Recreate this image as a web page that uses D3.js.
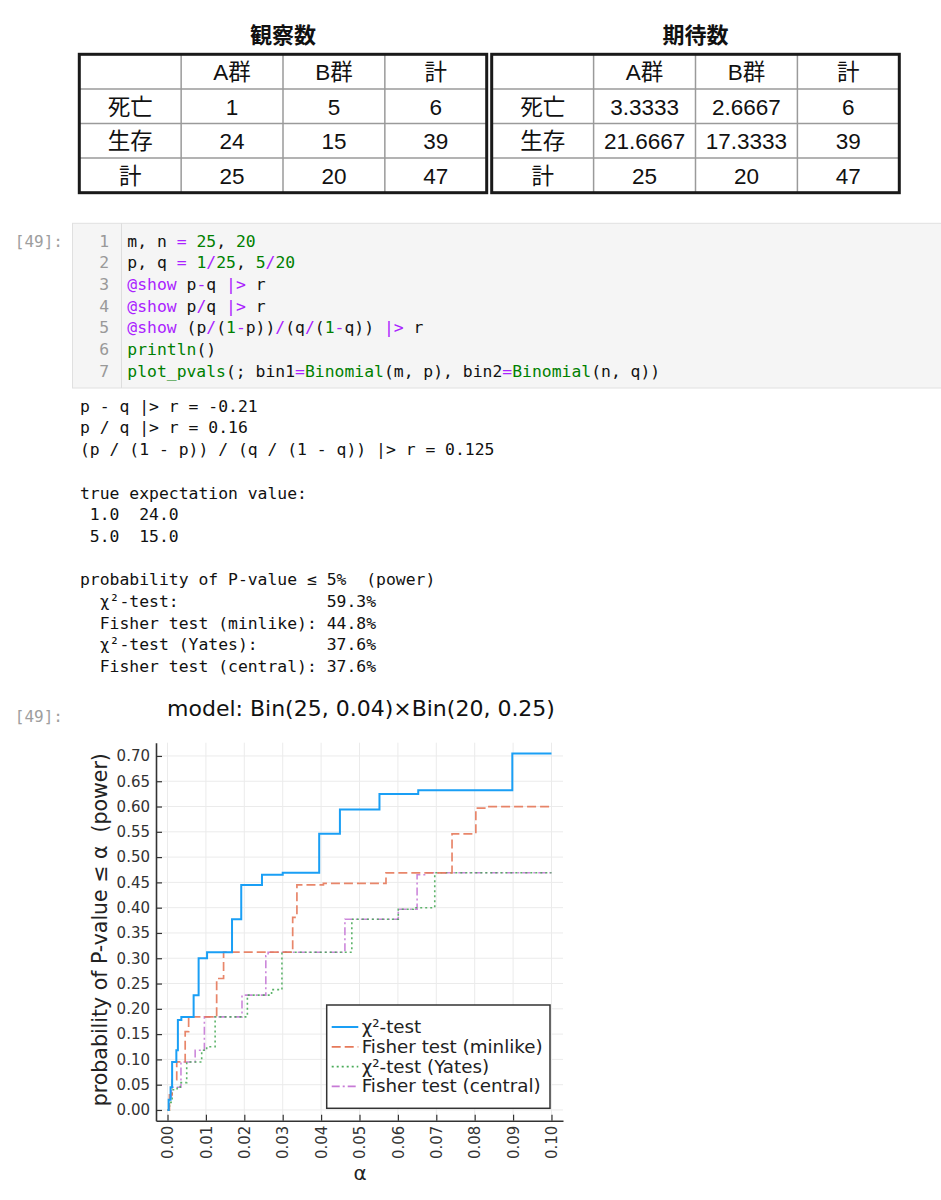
<!DOCTYPE html>
<html>
<head>
<meta charset="utf-8">
<script src="https://cdn.jsdelivr.net/npm/d3@7"></script>
<style>
  html, body { margin: 0; padding: 0; background: #fff; }
  svg { display: block; }
  text { white-space: pre; }
</style>
</head>
<body>
<svg id="page" width="941" height="1200"></svg>
<script>
// ---- table data ----
const rowLabels = ["死亡", "生存", "計"];
const colLabels = ["A群", "B群", "計"];
const observed = [["1", "5", "6"], ["24", "15", "39"], ["25", "20", "47"]];
const expected = [["3.3333", "2.6667", "6"], ["21.6667", "17.3333", "39"], ["25", "20", "47"]];

// ---- step curves: [alpha, power] ----
const chi2 = [[0, 0], [0.0003, 0.02], [0.0008, 0.045], [0.0012, 0.095], [0.0023, 0.118], [0.0027, 0.178],
  [0.0036, 0.184], [0.0068, 0.227], [0.0081, 0.300], [0.0103, 0.312], [0.0168, 0.377], [0.0192, 0.445],
  [0.0246, 0.465], [0.030, 0.469], [0.0395, 0.546], [0.0449, 0.594], [0.0552, 0.625], [0.0653, 0.632],
  [0.0898, 0.705], [0.1, 0.705]];
const fisherMinlike = [[0, 0], [0.0005, 0.03], [0.0012, 0.06], [0.0024, 0.095], [0.0046, 0.155], [0.0055, 0.184],
  [0.0128, 0.26], [0.0146, 0.312], [0.0326, 0.381], [0.0337, 0.445], [0.0406, 0.448], [0.0569, 0.469],
  [0.0741, 0.546], [0.0803, 0.597], [0.0829, 0.600], [0.1, 0.600]];
const yates = [[0, 0], [0.0005, 0.015], [0.0012, 0.04], [0.0025, 0.045], [0.0033, 0.054], [0.005, 0.095],
  [0.0089, 0.118], [0.0102, 0.125], [0.0124, 0.184], [0.0208, 0.227], [0.0271, 0.238], [0.0298, 0.312],
  [0.048, 0.377], [0.0601, 0.397], [0.064, 0.40], [0.0696, 0.469], [0.1, 0.469]];
const fisherCentral = [[0, 0], [0.0004, 0.02], [0.001, 0.045], [0.0035, 0.095], [0.0072, 0.118], [0.0096, 0.184],
  [0.0194, 0.227], [0.0256, 0.305], [0.0262, 0.312], [0.0462, 0.377], [0.0601, 0.397], [0.065, 0.465],
  [0.0675, 0.469], [0.1, 0.469]];

const alphaTicks = [0, 0.01, 0.02, 0.03, 0.04, 0.05, 0.06, 0.07, 0.08, 0.09, 0.10];
const powerTicks = [0, 0.05, 0.10, 0.15, 0.20, 0.25, 0.30, 0.35, 0.40, 0.45, 0.50, 0.55, 0.60, 0.65, 0.70];

const seriesNames = ["χ²-test", "Fisher test (minlike)", "χ²-test (Yates)", "Fisher test (central)"];

// ---- notebook text ----
const P = "#aa22ff", G = "#008000";
const codeLines = [
  [["m, n "], ["=", P], [" "], ["25", G], [", "], ["20", G]],
  [["p, q "], ["=", P], [" "], ["1", G], ["/", P], ["25", G], [", "], ["5", G], ["/", P], ["20", G]],
  [["@show", P], [" p"], ["-", P], ["q "], ["|>", P], [" r"]],
  [["@show", P], [" p"], ["/", P], ["q "], ["|>", P], [" r"]],
  [["@show", P], [" (p"], ["/", P], ["("], ["1", G], ["-", P], ["p))"], ["/", P], ["(q"], ["/", P], ["("],
    ["1", G], ["-", P], ["q)) "], ["|>", P], [" r"]],
  [["println", G], ["()"]],
  [["plot_pvals", G], ["(; bin1"], ["=", P], ["Binomial", G], ["(m, p), bin2"], ["=", P], ["Binomial", G], ["(n, q))"]]
];
const outputLines = [
  "p - q |> r = -0.21",
  "p / q |> r = 0.16",
  "(p / (1 - p)) / (q / (1 - q)) |> r = 0.125",
  "",
  "true expectation value:",
  " 1.0  24.0",
  " 5.0  15.0",
  "",
  "probability of P-value ≤ 5%  (power)",
  "  χ²-test:               59.3%",
  "  Fisher test (minlike): 44.8%",
  "  χ²-test (Yates):       37.6%",
  "  Fisher test (central): 37.6%"
];

const svg = d3.select("#page");
svg.append("rect").attr("width", 941).attr("height", 1200).attr("fill", "#fff");

const tableFont = "'Liberation Sans', 'Noto Sans CJK JP', sans-serif";

// ---- tables ----
function drawTable(title, values, x0, x1, y0, y1) {
  const g = svg.append("g");
  const cx = d3.scaleBand().domain(d3.range(4)).range([x0, x1]);
  const cy = d3.scaleBand().domain(d3.range(4)).range([y0, y1]);

  g.append("text")
    .attr("x", (x0 + x1) / 2)
    .attr("y", 43)
    .attr("text-anchor", "middle")
    .attr("font-family", "'Noto Sans CJK JP', sans-serif")
    .attr("font-weight", "bold")
    .attr("font-size", 22)
    .attr("fill", "#111")
    .text(title);

  [1, 2, 3].forEach(i => {
    g.append("line")
      .attr("x1", cx(i)).attr("x2", cx(i))
      .attr("y1", y0).attr("y2", y1)
      .attr("stroke", "#9a9a9a").attr("stroke-width", 1.5);
    g.append("line")
      .attr("x1", x0).attr("x2", x1)
      .attr("y1", cy(i)).attr("y2", cy(i))
      .attr("stroke", "#9a9a9a").attr("stroke-width", 1.5);
  });

  g.append("rect")
    .attr("x", x0).attr("y", y0)
    .attr("width", x1 - x0).attr("height", y1 - y0)
    .attr("fill", "none")
    .attr("stroke", "#1a1a1a")
    .attr("stroke-width", 3);

  const cells = [];
  colLabels.forEach((c, j) => cells.push({ r: 0, c: j + 1, t: c }));
  rowLabels.forEach((r, i) => {
    cells.push({ r: i + 1, c: 0, t: r });
    values[i].forEach((v, j) => cells.push({ r: i + 1, c: j + 1, t: v }));
  });

  g.selectAll(".cell").data(cells).enter()
    .append("text")
    .classed("cell", true)
    .attr("x", d => cx(d.c) + cx.bandwidth() / 2)
    .attr("y", d => cy(d.r) + cy.bandwidth() / 2 + 1)
    .attr("text-anchor", "middle")
    .attr("dominant-baseline", "central")
    .attr("font-family", tableFont)
    .attr("font-size", 22.5)
    .attr("fill", "#111")
    .text(d => d.t);
}

drawTable("観察数", observed, 79.3, 486.7, 54.3, 192.7);
drawTable("期待数", expected, 491.7, 899.3, 54.3, 192.7);

// ---- code cell ----
const mono = "'DejaVu Sans Mono', monospace";
svg.append("rect")
  .attr("x", 72.5).attr("y", 223.3)
  .attr("width", 941 - 72.5 + 2).attr("height", 164.7)
  .attr("fill", "#f5f5f5")
  .attr("stroke", "#e0e0e0").attr("stroke-width", 1);
svg.append("line")
  .attr("x1", 121.5).attr("x2", 121.5)
  .attr("y1", 223.3).attr("y2", 388)
  .attr("stroke", "#dddddd").attr("stroke-width", 1);

const prompt = (yy) => svg.append("text")
  .attr("x", 63).attr("y", yy)
  .attr("text-anchor", "end")
  .attr("font-family", mono)
  .attr("font-size", 16)
  .attr("fill", "#9e9e9e")
  .text("[49]:");
prompt(247);

codeLines.forEach((tokens, i) => {
  const by = 246.7 + i * 21.67;
  svg.append("text")
    .attr("x", 109).attr("y", by)
    .attr("text-anchor", "end")
    .attr("font-family", mono).attr("font-size", 16.4)
    .attr("fill", "#999")
    .text(String(i + 1));
  const t = svg.append("text")
    .attr("x", 127.3).attr("y", by)
    .attr("font-family", mono).attr("font-size", 16.4)
    .attr("fill", "#111");
  tokens.forEach(tok => {
    t.append("tspan").attr("fill", tok[1] || "#111").text(tok[0]);
  });
});

// ---- stdout ----
outputLines.forEach((line, i) => {
  svg.append("text")
    .attr("x", 80).attr("y", 411.7 + i * 21.7)
    .attr("font-family", mono).attr("font-size", 16.4)
    .attr("fill", "#111")
    .text(line);
});

// ---- plot ----
prompt(722);
const sans = "'DejaVu Sans', sans-serif";
const plotLeft = 156, plotRight = 563, plotTop = 742.7, plotBottom = 1120.7;
const x = d3.scaleLinear().domain([-0.003, 0.103]).range([plotLeft, plotRight]);
const y = d3.scaleLinear().domain([-0.0212, 0.7262]).range([plotBottom, plotTop]);

svg.append("text")
  .attr("x", 361).attr("y", 716)
  .attr("text-anchor", "middle")
  .attr("font-family", sans).attr("font-size", 22)
  .attr("fill", "#111")
  .text("model: Bin(25, 0.04)×Bin(20, 0.25)");

const grid = svg.append("g");
grid.selectAll(".gx").data(alphaTicks).enter().append("line")
  .attr("x1", d => x(d)).attr("x2", d => x(d))
  .attr("y1", plotTop).attr("y2", plotBottom)
  .attr("stroke", "#ebebeb").attr("stroke-width", 1);
grid.selectAll(".gy").data(powerTicks).enter().append("line")
  .attr("x1", plotLeft).attr("x2", plotRight)
  .attr("y1", d => y(d)).attr("y2", d => y(d))
  .attr("stroke", "#ebebeb").attr("stroke-width", 1);

const series = [
  { name: seriesNames[0], data: chi2, color: "#1a9ff5", width: 2, dash: null },
  { name: seriesNames[1], data: fisherMinlike, color: "#e6795a", width: 1.7, dash: "9,4" },
  { name: seriesNames[2], data: yates, color: "#4aab5a", width: 1.6, dash: "2,3" },
  { name: seriesNames[3], data: fisherCentral, color: "#c77ad6", width: 1.6, dash: "8,3,2,3" }
];

const stepLine = d3.line()
  .x(d => x(d[0]))
  .y(d => y(d[1]))
  .curve(d3.curveStepAfter);

svg.append("g").selectAll("path").data(series.slice().reverse()).enter()
  .append("path")
  .attr("d", d => stepLine(d.data))
  .attr("fill", "none")
  .attr("stroke", d => d.color)
  .attr("stroke-width", d => d.width)
  .attr("stroke-dasharray", d => d.dash)
  .attr("opacity", d => d.dash ? 0.9 : 1);

const yAxis = svg.append("g")
  .attr("transform", `translate(${plotLeft},0)`)
  .call(d3.axisLeft(y).tickValues(powerTicks).tickFormat(d3.format(".2f"))
    .tickSizeInner(-6).tickSizeOuter(0).tickPadding(6));
const xAxis = svg.append("g")
  .attr("transform", `translate(0,${plotBottom})`)
  .call(d3.axisBottom(x).tickValues(alphaTicks).tickFormat(d3.format(".2f"))
    .tickSizeInner(-6).tickSizeOuter(0).tickPadding(5));

[yAxis, xAxis].forEach(a => {
  a.select(".domain").attr("stroke", "#333").attr("stroke-width", 1.6);
  a.selectAll(".tick line").attr("stroke", "#333").attr("stroke-width", 1.2);
  a.selectAll("text")
    .attr("font-family", sans).attr("font-size", 15).attr("fill", "#333");
});
xAxis.selectAll("text")
  .attr("transform", "rotate(-90)")
  .attr("text-anchor", "end")
  .attr("x", -5).attr("y", 0)
  .attr("dy", "0.35em");

svg.append("text")
  .attr("x", 360).attr("y", 1180)
  .attr("text-anchor", "middle")
  .attr("font-family", sans).attr("font-size", 20)
  .attr("fill", "#222")
  .text("α");

svg.append("text")
  .attr("transform", `translate(100,${(plotTop + plotBottom) / 2 - 2}) rotate(-90)`)
  .attr("text-anchor", "middle")
  .attr("dominant-baseline", "central")
  .attr("font-family", sans).attr("font-size", 20.5)
  .attr("fill", "#222")
  .text("probability of P-value ≤ α  (power)");

// ---- legend ----
const legend = svg.append("g");
legend.append("rect")
  .attr("x", 326.7).attr("y", 1005)
  .attr("width", 223.3).attr("height", 103.3)
  .attr("fill", "#fff")
  .attr("stroke", "#333").attr("stroke-width", 1.5);
const entries = legend.selectAll(".entry").data(series).enter()
  .append("g")
  .attr("transform", (d, i) => `translate(0,${1033 + i * 19.8})`);
entries.append("line")
  .attr("x1", 331.7).attr("x2", 358.3)
  .attr("y1", -6).attr("y2", -6)
  .attr("stroke", d => d.color)
  .attr("stroke-width", d => d.width)
  .attr("stroke-dasharray", d => d.dash);
entries.append("text")
  .attr("x", 361.7).attr("y", 0)
  .attr("font-family", sans).attr("font-size", 18.3)
  .attr("fill", "#222")
  .text(d => d.name);
</script>
</body>
</html>
